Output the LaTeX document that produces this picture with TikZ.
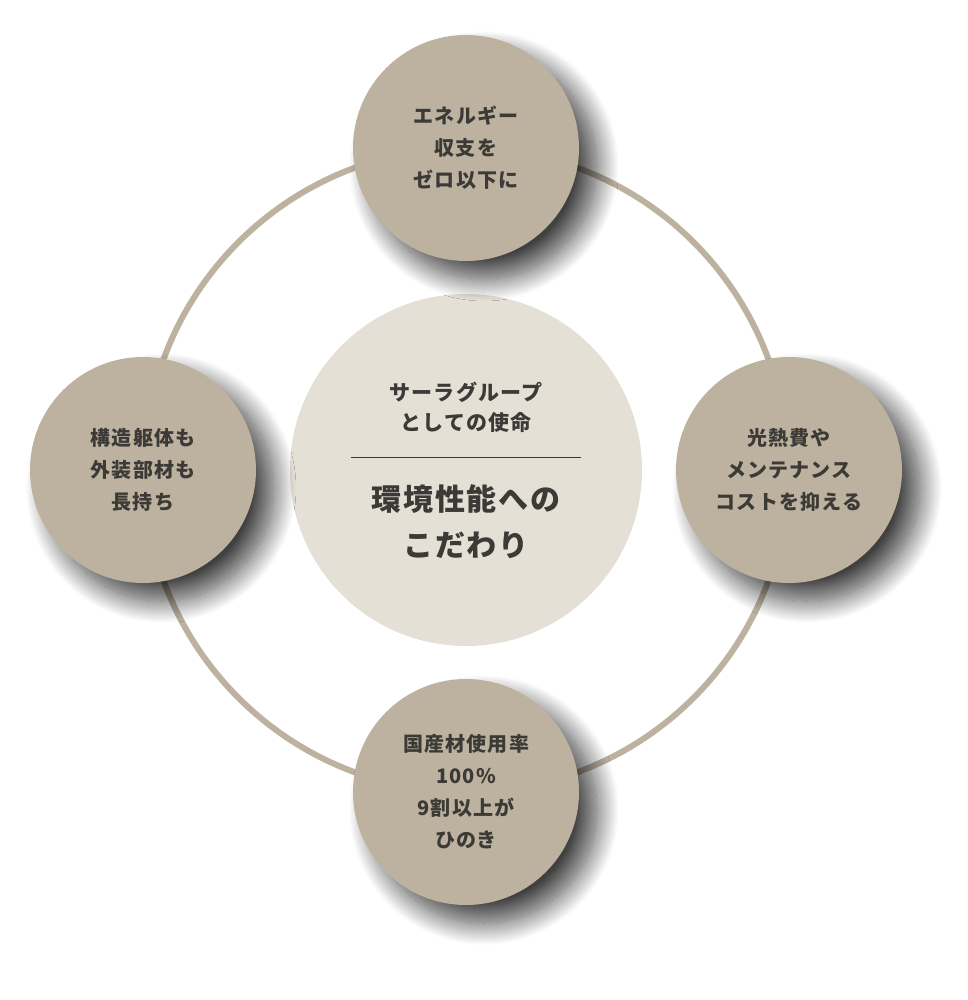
\documentclass[tikz,border=0pt]{standalone}
\usepackage{fontspec}
\setmainfont{Noto Sans CJK JP}[LetterSpace=6]
\usetikzlibrary{shadows.blur}
\definecolor{ringc}{HTML}{BDB29F}
\definecolor{corec}{HTML}{E4E0D6}
\definecolor{txtc}{HTML}{3C3A36}
\tikzset{
  pillar/.style={circle, fill=ringc, minimum size=226pt, inner sep=0pt, text=txtc,
    align=center, font=\fontsize{20}{32}\selectfont\bfseries,
    blur shadow={shadow xshift=18pt, shadow yshift=-18pt, shadow blur radius=22pt, shadow blur steps=30, shadow opacity=75}},
}
\begin{document}
\begin{tikzpicture}[x=1pt,y=-1pt]
    \useasboundingbox (0,0) rectangle (967,1000);
    \draw[ringc, line width=6pt] (466,470) circle[radius=322];

    \node[circle, fill=corec, minimum size=352pt, inner sep=0pt] (core) at (466,470) {};
    \node[text=txtc, align=center, font=\fontsize{21}{30}\selectfont\bfseries] (mission) at (466,407) {サーラグループ\\としての使命};
    \draw[txtc, line width=0.8pt] (351,457) -- (581,457);
    \node[text=txtc, align=center, font=\fontsize{30}{46}\selectfont\bfseries] (focus) at (466,522) {環境性能への\\こだわり};

    \node[pillar] (energy) at (466,148) {エネルギー\\収支を\\ゼロ以下に};
    \node[pillar] (cost) at (789,470) {光熱費や\\メンテナンス\\コストを抑える};
    \node[pillar] (wood) at (466,792) {国産材使用率\\100\%\\9割以上が\\ひのき};
    \node[pillar] (frame) at (143,470) {構造躯体も\\外装部材も\\長持ち};
\end{tikzpicture}
\end{document}
